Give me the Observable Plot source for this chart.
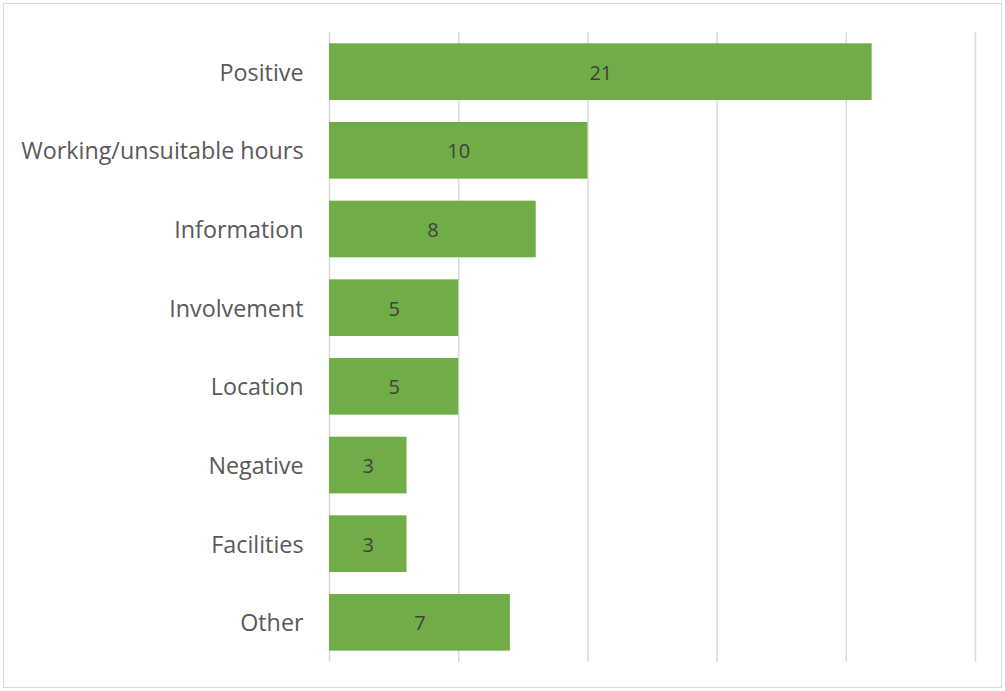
<!DOCTYPE html>
<html><head><meta charset="utf-8">
<script src="https://cdn.jsdelivr.net/npm/d3@7"></script>
<script src="https://cdn.jsdelivr.net/npm/@observablehq/plot@0.6"></script>
<style>
html,body{margin:0;padding:0;background:#fff;}
#wrap{position:relative;width:1005px;height:691px;}
#border{position:absolute;left:3px;top:3px;width:997px;height:683px;border:1px solid #D9D9D9;pointer-events:none;}
</style>
</head><body>
<div id="wrap"><div id="border"></div></div>
<script>
const categories = ["Positive","Working/unsuitable hours","Information","Involvement","Location","Negative","Facilities","Other"];
const counts = [21,10,8,5,5,3,3,7];
const gridTicks = [0,5,10,15,20,25];

const data = categories.map((c,i)=>({category:c, count:counts[i]}));

const chart = Plot.plot({
  width: 1005,
  height: 691,
  marginLeft: 329,
  marginRight: 30,
  marginTop: 32.3,
  marginBottom: 29.3,
  style: {fontFamily: "'Open Sans', sans-serif", background: "transparent"},
  x: {domain: [0,25], axis: null},
  y: {domain: categories, paddingInner: 0.28, paddingOuter: 0.14, round: false, label: null},
  marks: [
    Plot.ruleX(gridTicks, {stroke: "#D9D9D9", strokeWidth: 1.5}),
    Plot.barX(data, {x: "count", y: "category", fill: "#70AD47"}),
    Plot.text(data, {x: d => d.count/2, y: "category", dy: 1, text: d => String(d.count), fill: "#404040", fontSize: 20}),
    Plot.axisY({tickSize: 0, tickPadding: 26, dy: 1, fontSize: 23.3, color: "#595959", label: null})
  ]
});
document.getElementById("wrap").appendChild(chart);
chart.style.position = "absolute";
chart.style.left = "0";
chart.style.top = "0";
</script>
</body></html>
